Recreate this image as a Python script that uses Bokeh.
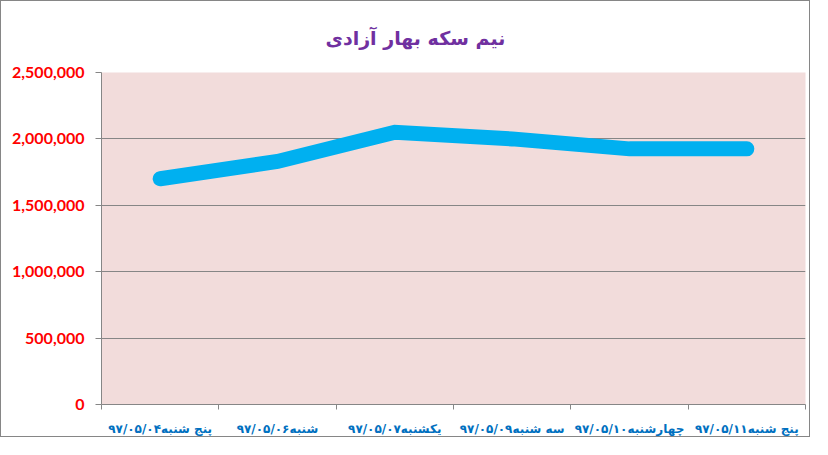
from bokeh.plotting import figure
from bokeh.models import FixedTicker, Range1d
from bokeh.embed import file_html
from bokeh.resources import INLINE

# chart data
title_text = "نیم سکه بهار آزادی"
days = ["پنج شنبه۹۷/۰۵/۰۴", "شنبه۹۷/۰۵/۰۶", "یکشنبه۹۷/۰۵/۰۷",
        "سه شنبه۹۷/۰۵/۰۹", "چهارشنبه۹۷/۰۵/۱۰", "پنج شنبه۹۷/۰۵/۱۱"]
prices = [1700000, 1830000, 2050000, 2000000, 1925000, 1925000]
y_ticks = [0, 500000, 1000000, 1500000, 2000000, 2500000]
y_labels = ["0", "500,000", "1,000,000", "1,500,000", "2,000,000", "2,500,000"]

line_color = "#00B0F0"
grid_color = "#868686"

xs = [i + 0.5 for i in range(len(days))]

p = figure(width=810, height=437, output_backend="svg", toolbar_location=None,
           x_range=Range1d(0, len(days)), y_range=Range1d(0, 2500000),
           min_border_left=100, min_border_right=6, min_border_top=71, min_border_bottom=30)
p.styles = {"border": "1px solid #868686"}
p.background_fill_color = "#F2DCDB"
p.border_fill_color = "white"
p.outline_line_color = None

# title, centred over the whole chart
p.title.text = title_text
p.title.align = "left"
p.title.vertical_align = "middle"
p.title.offset = 224
p.title.standoff = 46
p.title.text_color = "#7030A0"
p.title.text_font = "DejaVu Sans"
p.title.text_font_size = "19px"
p.title.text_font_style = "bold"

# x axis: labels between tick marks, like the original
xaxis = p.xaxis[0]
xaxis.ticker = FixedTicker(ticks=xs, minor_ticks=list(range(len(days) + 1)))
xaxis.major_label_overrides = {x: d for x, d in zip(xs, days)}
xaxis.major_tick_line_color = None
xaxis.minor_tick_line_color = grid_color
xaxis.minor_tick_out = 5
xaxis.minor_tick_in = 0
xaxis.axis_line_color = grid_color
xaxis.major_label_standoff = 11
xaxis.major_label_text_color = "#0070C0"
xaxis.major_label_text_font = "DejaVu Sans"
xaxis.major_label_text_font_size = "12px"
xaxis.major_label_text_font_style = "bold"

# y axis
yaxis = p.yaxis[0]
yaxis.ticker = FixedTicker(ticks=y_ticks)
yaxis.major_label_overrides = {t: lab for t, lab in zip(y_ticks, y_labels)}
yaxis.major_tick_out = 6
yaxis.major_tick_in = 0
yaxis.major_tick_line_color = grid_color
yaxis.axis_line_color = grid_color
yaxis.minor_tick_line_color = None
yaxis.major_label_standoff = 11
yaxis.major_label_text_color = "#FF0000"
yaxis.major_label_text_font = "Lato"
yaxis.major_label_text_font_size = "16px"
yaxis.major_label_text_font_style = "bold"

p.xgrid.grid_line_color = None
p.ygrid.ticker = FixedTicker(ticks=y_ticks)
p.ygrid.grid_line_color = grid_color

p.line(x=xs, y=prices, line_color=line_color, line_width=15,
       line_cap="round", line_join="miter")

open("out.html", "w").write(file_html(p, INLINE))
